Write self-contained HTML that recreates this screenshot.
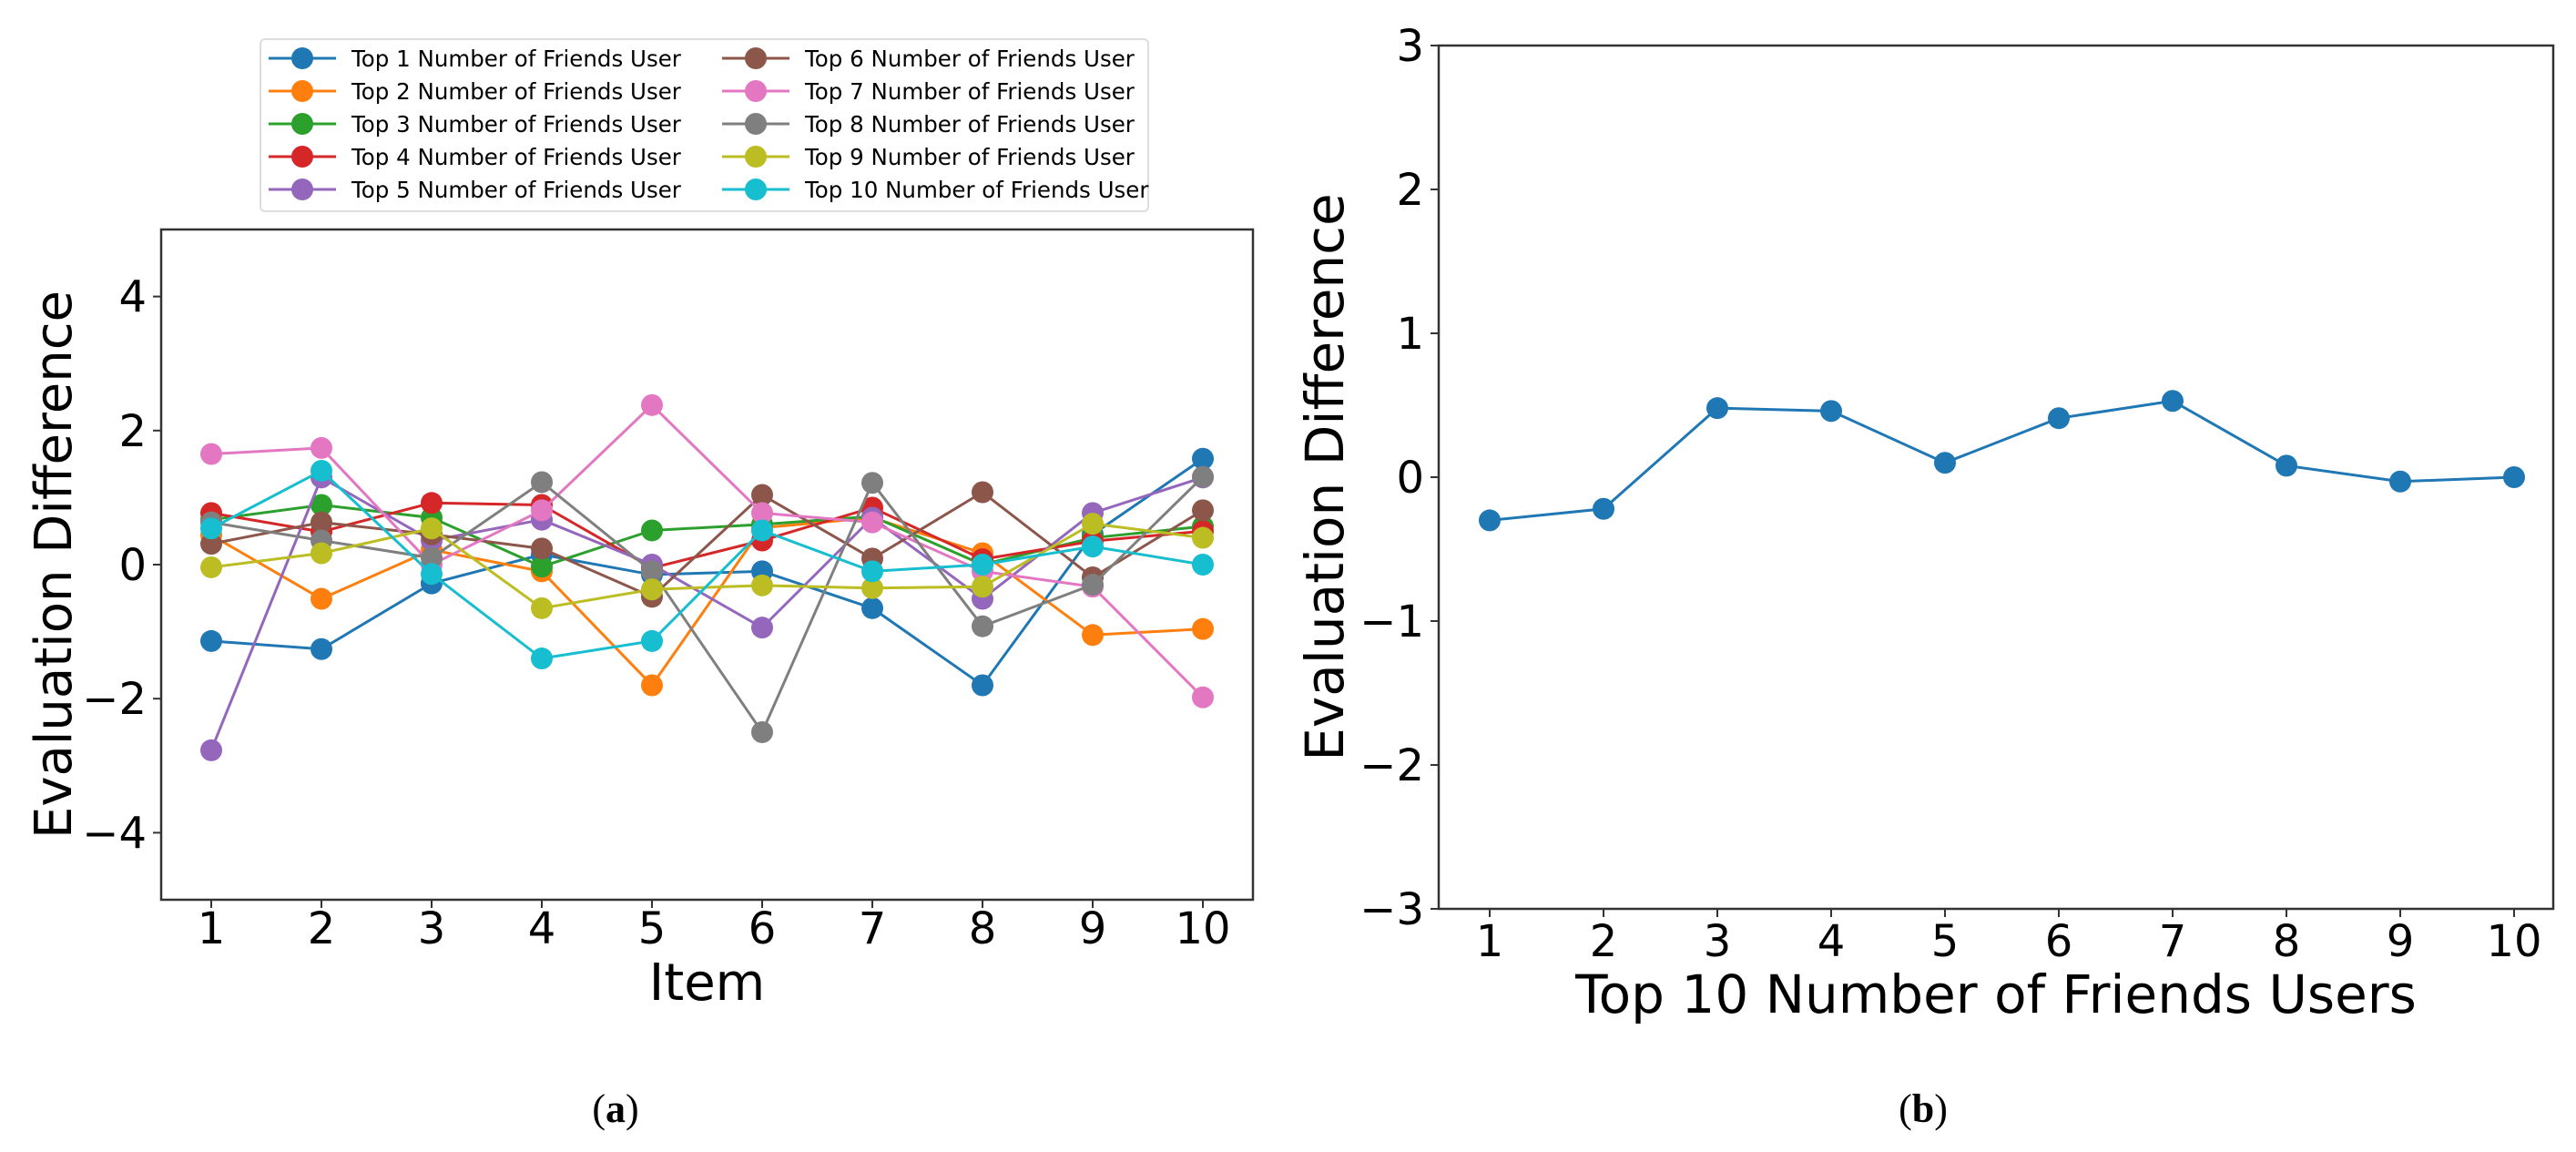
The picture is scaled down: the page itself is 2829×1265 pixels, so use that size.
<!DOCTYPE html>
<html><head><meta charset="utf-8">
<style>
html,body{margin:0;padding:0;background:#fff;}
svg{display:block;}
text{font-family:"DejaVu Sans","Liberation Sans",sans-serif;fill:#000;}
</style></head>
<body>
<svg id="fig" width="2829" height="1265" viewBox="0 0 2829 1265" xmlns="http://www.w3.org/2000/svg"></svg>
<script>
const items = [1,2,3,4,5,6,7,8,9,10];
const seriesNames = ["Top 1 Number of Friends User","Top 2 Number of Friends User","Top 3 Number of Friends User","Top 4 Number of Friends User","Top 5 Number of Friends User","Top 6 Number of Friends User","Top 7 Number of Friends User","Top 8 Number of Friends User","Top 9 Number of Friends User","Top 10 Number of Friends User"];
const top1 = [-1.14,-1.26,-0.28,0.15,-0.15,-0.10,-0.65,-1.80,0.45,1.58];
const top2 = [0.44,-0.51,0.22,-0.10,-1.80,0.55,0.70,0.17,-1.05,-0.96];
const top3 = [0.67,0.89,0.70,-0.03,0.51,0.60,0.72,0.00,0.40,0.57];
const top4 = [0.77,0.49,0.92,0.89,-0.05,0.36,0.85,0.08,0.35,0.50];
const top5 = [-2.77,1.30,0.36,0.67,0.00,-0.94,0.70,-0.51,0.77,1.30];
const top6 = [0.31,0.63,0.45,0.24,-0.48,1.04,0.09,1.08,-0.19,0.81];
const top7 = [1.65,1.74,0.00,0.81,2.38,0.77,0.63,-0.10,-0.33,-1.98];
const top8 = [0.63,0.36,0.10,1.23,-0.10,-2.50,1.22,-0.92,-0.30,1.31];
const top9 = [-0.04,0.17,0.54,-0.65,-0.37,-0.31,-0.35,-0.33,0.61,0.40];
const top10 = [0.54,1.40,-0.14,-1.40,-1.14,0.51,-0.10,0.00,0.27,0.00];
const leftTicksY = [-4,-2,0,2,4];
const users = [1,2,3,4,5,6,7,8,9,10];
const avgDiff = [-0.30,-0.22,0.48,0.46,0.10,0.41,0.53,0.08,-0.03,0.00];
const rightTicksY = [-3,-2,-1,0,1,2,3];

const allSeries = [top1,top2,top3,top4,top5,top6,top7,top8,top9,top10];
const colors = ["#1f77b4","#ff7f0e","#2ca02c","#d62728","#9467bd","#8c564b","#e377c2","#7f7f7f","#bcbd22","#17becf"];
const NS = "http://www.w3.org/2000/svg";
const svg = document.getElementById("fig");
function mk(tag, attrs, parent, txt){
  const e = document.createElementNS(NS, tag);
  for (const k in attrs) e.setAttribute(k, attrs[k]);
  if (txt !== undefined) e.textContent = txt;
  (parent||svg).appendChild(e);
  return e;
}
function minus(v){ return v<0 ? "\u2212"+Math.abs(v) : String(v); }

// ---- left chart ----
const L = {x0:177, x1:1376, y0:252, y1:988, ymin:-5, ymax:5};
const lx = v => 232 + (v-1)*121;
const ly = v => L.y1 - (v-L.ymin)/(L.ymax-L.ymin)*(L.y1-L.y0);
const gL = mk("g", {});


allSeries.forEach((s, i) => {
  const g = mk("g", {}, gL);
  
  
  const pts = s.map((v, j) => lx(items[j]) + "," + ly(v)).join(" ");
  const pl = mk("polyline", {points: pts, fill: "none", stroke: colors[i], "stroke-width": 3}, g);
  
  
  s.forEach((v, j) => {
    const c = mk("circle", {cx: lx(items[j]), cy: ly(v), r: 12, fill: colors[i]}, g);
    
    
  });
});
const fL = mk("rect", {x:L.x0, y:L.y0, width:L.x1-L.x0, height:L.y1-L.y0, fill:"none", stroke:"#333", "stroke-width":2.5}, gL);


items.forEach(v => {
  mk("line", {x1:lx(v), x2:lx(v), y1:L.y1, y2:L.y1+9, stroke:"#333", "stroke-width":2}, gL);
  const t = mk("text", {x:lx(v), y:L.y1+48, "font-size":48, "text-anchor":"middle"}, gL, String(v));
  
  
});
leftTicksY.forEach(v => {
  mk("line", {x1:L.x0-9, x2:L.x0, y1:ly(v), y2:ly(v), stroke:"#333", "stroke-width":2}, gL);
  const t = mk("text", {x:L.x0-16, y:ly(v)+17, "font-size":48, "text-anchor":"end"}, gL, minus(v));
  
  
});
const lxl = mk("text", {x:(L.x0+L.x1)/2, y:1098, "font-size":56, "text-anchor":"middle"}, gL, "Item");


const lyl = mk("text", {x:0, y:0, "font-size":56, "text-anchor":"middle", transform:"translate(78,620) rotate(-90)"}, gL, "Evaluation Difference");



// legend
const leg = mk("g", {}, gL);


mk("rect", {x:286, y:43, width:975, height:189, rx:5, fill:"#fff", stroke:"#ddd", "stroke-width":2}, leg);
seriesNames.forEach((n, i) => {
  const col = Math.floor(i/5), row = i%5;
  const mx = col ? 830 : 332, y = 64 + row*36;
  const e = mk("g", {}, leg);
  
  
  mk("line", {x1:mx-37, x2:mx+37, y1:y, y2:y, stroke:colors[i], "stroke-width":3}, e);
  mk("circle", {cx:mx, cy:y, r:12, fill:colors[i]}, e);
  mk("text", {x:mx+54, y:y+9, "font-size":24.5}, e, n);
});
const capA = mk("text", {x:676, y:1232, "font-size":44, "text-anchor":"middle", style:"font-family:'Liberation Serif',serif"}, svg);
capA.innerHTML = '(<tspan font-weight="bold">a</tspan>)';



// ---- right chart ----
const R = {x0:1580, x1:2804, y0:50, y1:998, ymin:-3, ymax:3};
const rx = v => 1636 + (v-1)*125;
const ry = v => R.y1 - (v-R.ymin)/(R.ymax-R.ymin)*(R.y1-R.y0);
const gR = mk("g", {});


const rpl = mk("polyline", {points: avgDiff.map((v,j)=>rx(users[j])+","+ry(v)).join(" "), fill:"none", stroke:"#1f77b4", "stroke-width":3}, gR);


avgDiff.forEach((v, j) => {
  const c = mk("circle", {cx:rx(users[j]), cy:ry(v), r:12, fill:"#1f77b4"}, gR);
  
  
});
const fR = mk("rect", {x:R.x0, y:R.y0, width:R.x1-R.x0, height:R.y1-R.y0, fill:"none", stroke:"#333", "stroke-width":2.5}, gR);


users.forEach(v => {
  mk("line", {x1:rx(v), x2:rx(v), y1:R.y1, y2:R.y1+9, stroke:"#333", "stroke-width":2}, gR);
  const t = mk("text", {x:rx(v), y:R.y1+52, "font-size":48, "text-anchor":"middle"}, gR, String(v));
  
  
});
rightTicksY.forEach(v => {
  mk("line", {x1:R.x0-9, x2:R.x0, y1:ry(v), y2:ry(v), stroke:"#333", "stroke-width":2}, gR);
  const t = mk("text", {x:R.x0-16, y:ry(v)+17, "font-size":48, "text-anchor":"end"}, gR, minus(v));
  
  
});
const rxl = mk("text", {x:(R.x0+R.x1)/2, y:1112, "font-size":58, "text-anchor":"middle"}, gR, "Top 10 Number of Friends Users");


const ryl = mk("text", {x:0, y:0, "font-size":58, "text-anchor":"middle", transform:"translate(1475,524) rotate(-90)"}, gR, "Evaluation Difference");


const capB = mk("text", {x:2112, y:1232, "font-size":44, "text-anchor":"middle", style:"font-family:'Liberation Serif',serif"}, svg);
capB.innerHTML = '(<tspan font-weight="bold">b</tspan>)';


</script>
</body></html>
